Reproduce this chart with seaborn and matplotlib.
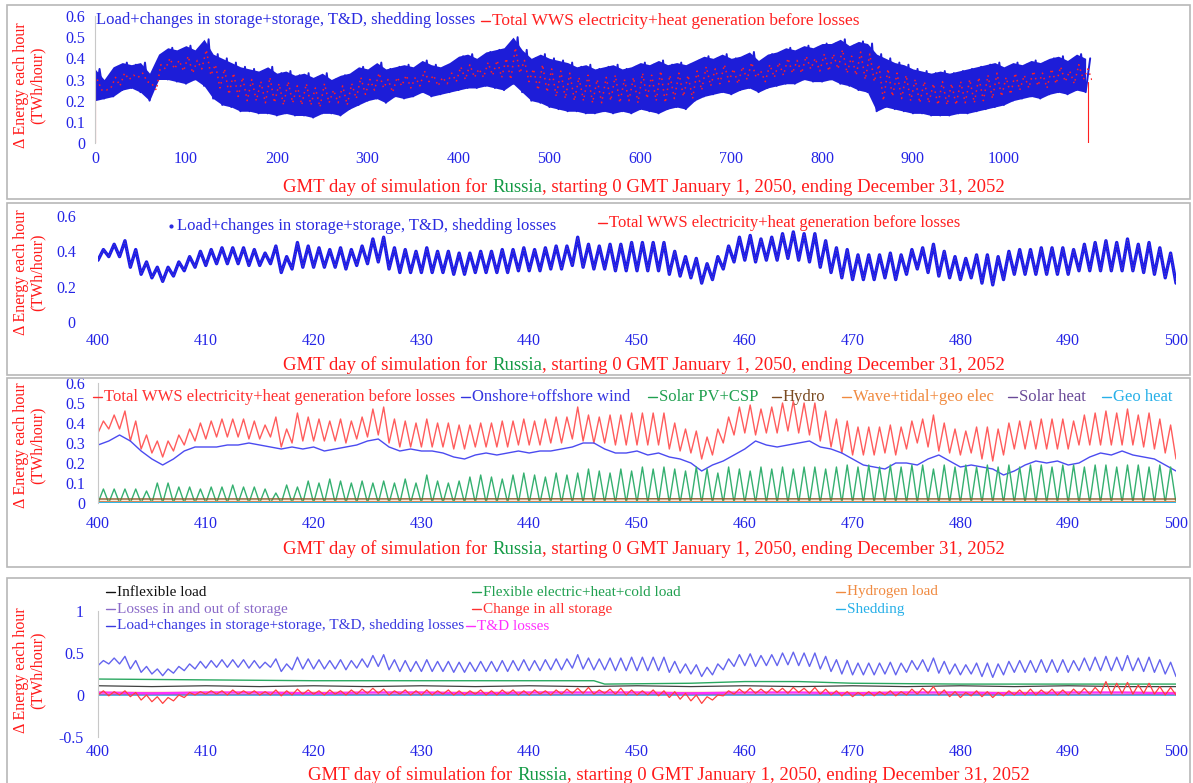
import numpy as np
import pandas as pd
import matplotlib
matplotlib.use("Agg")
import matplotlib.pyplot as plt
import seaborn as sns
from matplotlib.lines import Line2D
from matplotlib.patches import Rectangle

sns.set_theme(style="white")
plt.rcParams["font.family"] = ["Liberation Serif", "DejaVu Serif"]

# ---------------- data ----------------
# Panel 1: envelope of hourly series, sampled every 10 days (days 0..1090)
p1_days = list(range(0, 1100, 10))
p1_upper = [0.35, 0.30, 0.36, 0.38, 0.37, 0.38, 0.33, 0.42, 0.45, 0.44,
            0.46, 0.44, 0.49, 0.42, 0.40, 0.38, 0.36, 0.35, 0.34, 0.36,
            0.33, 0.34, 0.32, 0.33, 0.31, 0.33, 0.30, 0.32, 0.33, 0.36,
            0.35, 0.38, 0.35, 0.36, 0.37, 0.36, 0.39, 0.37, 0.36, 0.38,
            0.41, 0.42, 0.40, 0.43, 0.44, 0.45, 0.50, 0.44, 0.40, 0.42,
            0.40, 0.39, 0.38, 0.36, 0.37, 0.35, 0.36, 0.37, 0.35, 0.36,
            0.38, 0.37, 0.39, 0.37, 0.38, 0.37, 0.39, 0.41, 0.40, 0.42,
            0.40, 0.41, 0.43, 0.39, 0.42, 0.43, 0.45, 0.44, 0.46, 0.45,
            0.47, 0.47, 0.49, 0.46, 0.48, 0.47, 0.42, 0.40, 0.38, 0.37,
            0.35, 0.34, 0.33, 0.34, 0.33, 0.34, 0.35, 0.36, 0.37, 0.38,
            0.36, 0.38, 0.37, 0.39, 0.38, 0.40, 0.41, 0.39, 0.42, 0.40]
p1_lower = [0.20, 0.21, 0.22, 0.25, 0.26, 0.24, 0.20, 0.30, 0.30, 0.29,
            0.28, 0.30, 0.27, 0.21, 0.18, 0.17, 0.15, 0.15, 0.14, 0.14,
            0.13, 0.14, 0.13, 0.13, 0.12, 0.14, 0.14, 0.13, 0.16, 0.18,
            0.20, 0.21, 0.19, 0.22, 0.21, 0.22, 0.24, 0.22, 0.23, 0.24,
            0.25, 0.26, 0.26, 0.27, 0.26, 0.25, 0.28, 0.24, 0.20, 0.19,
            0.17, 0.16, 0.15, 0.15, 0.14, 0.14, 0.15, 0.14, 0.15, 0.14,
            0.16, 0.15, 0.14, 0.16, 0.17, 0.16, 0.20, 0.22, 0.23, 0.24,
            0.23, 0.25, 0.26, 0.24, 0.26, 0.27, 0.28, 0.28, 0.30, 0.29,
            0.29, 0.30, 0.28, 0.27, 0.25, 0.24, 0.15, 0.17, 0.16, 0.15,
            0.14, 0.14, 0.13, 0.13, 0.13, 0.14, 0.14, 0.15, 0.16, 0.17,
            0.18, 0.20, 0.21, 0.22, 0.21, 0.23, 0.24, 0.23, 0.25, 0.24]

# Panels 2-4: days 400..500, daily peaks and troughs of load / generation
days = list(range(400, 500))
load_peak = [0.41, 0.44, 0.46, 0.41, 0.34, 0.31, 0.31, 0.34, 0.37, 0.40,
             0.41, 0.42, 0.42, 0.42, 0.41, 0.39, 0.43, 0.37, 0.45, 0.43,
             0.42, 0.41, 0.42, 0.41, 0.43, 0.47, 0.48, 0.42, 0.41, 0.40,
             0.42, 0.40, 0.40, 0.39, 0.39, 0.40, 0.40, 0.41, 0.41, 0.42,
             0.41, 0.42, 0.43, 0.43, 0.48, 0.44, 0.43, 0.44, 0.44, 0.45,
             0.45, 0.45, 0.45, 0.40, 0.37, 0.36, 0.33, 0.37, 0.43, 0.48,
             0.49, 0.47, 0.48, 0.50, 0.51, 0.50, 0.50, 0.46, 0.42, 0.41,
             0.38, 0.38, 0.38, 0.39, 0.38, 0.41, 0.42, 0.44, 0.40, 0.37,
             0.36, 0.38, 0.38, 0.37, 0.40, 0.41, 0.41, 0.42, 0.42, 0.42,
             0.41, 0.44, 0.45, 0.46, 0.45, 0.47, 0.44, 0.45, 0.42, 0.39]
load_trough = [0.35, 0.37, 0.37, 0.31, 0.27, 0.25, 0.23, 0.26, 0.29, 0.31,
               0.32, 0.33, 0.33, 0.33, 0.32, 0.32, 0.33, 0.28, 0.30, 0.31,
               0.31, 0.31, 0.31, 0.30, 0.32, 0.33, 0.34, 0.30, 0.28, 0.28,
               0.28, 0.28, 0.28, 0.27, 0.27, 0.28, 0.28, 0.28, 0.28, 0.29,
               0.29, 0.29, 0.30, 0.30, 0.32, 0.31, 0.30, 0.30, 0.29, 0.29,
               0.29, 0.29, 0.29, 0.27, 0.26, 0.25, 0.22, 0.24, 0.30, 0.34,
               0.35, 0.34, 0.35, 0.35, 0.36, 0.35, 0.34, 0.31, 0.28, 0.25,
               0.24, 0.24, 0.24, 0.25, 0.24, 0.27, 0.30, 0.28, 0.26, 0.25,
               0.24, 0.25, 0.22, 0.21, 0.24, 0.27, 0.27, 0.27, 0.27, 0.27,
               0.27, 0.29, 0.29, 0.29, 0.29, 0.29, 0.29, 0.28, 0.27, 0.25,
               0.22]

wind_days = list(range(400, 501))
wind = [0.29, 0.31, 0.34, 0.31, 0.26, 0.22, 0.19, 0.22, 0.26, 0.28,
        0.28, 0.28, 0.29, 0.29, 0.30, 0.29, 0.28, 0.27, 0.28, 0.27,
        0.28, 0.26, 0.27, 0.28, 0.29, 0.31, 0.32, 0.28, 0.26, 0.27,
        0.26, 0.26, 0.25, 0.23, 0.22, 0.24, 0.25, 0.24, 0.25, 0.26,
        0.25, 0.26, 0.26, 0.27, 0.28, 0.30, 0.30, 0.27, 0.25, 0.25,
        0.26, 0.24, 0.25, 0.23, 0.22, 0.20, 0.16, 0.19, 0.21, 0.24,
        0.27, 0.31, 0.29, 0.28, 0.29, 0.30, 0.31, 0.28, 0.27, 0.25,
        0.22, 0.19, 0.18, 0.17, 0.20, 0.20, 0.19, 0.22, 0.24, 0.21,
        0.18, 0.19, 0.18, 0.17, 0.14, 0.16, 0.19, 0.21, 0.20, 0.21,
        0.19, 0.20, 0.23, 0.25, 0.24, 0.26, 0.24, 0.23, 0.22, 0.19,
        0.16]

solar_peak = [0.07, 0.07, 0.07, 0.07, 0.06, 0.10, 0.10, 0.08, 0.08, 0.07,
              0.08, 0.08, 0.09, 0.08, 0.08, 0.07, 0.05, 0.09, 0.08, 0.11,
              0.10, 0.12, 0.11, 0.10, 0.11, 0.10, 0.11, 0.10, 0.12, 0.10,
              0.14, 0.11, 0.10, 0.11, 0.13, 0.14, 0.13, 0.12, 0.14, 0.15,
              0.14, 0.13, 0.15, 0.14, 0.15, 0.17, 0.16, 0.15, 0.17, 0.16,
              0.18, 0.17, 0.18, 0.17, 0.16, 0.18, 0.17, 0.15, 0.18, 0.17,
              0.16, 0.18, 0.17, 0.18, 0.17, 0.18, 0.18, 0.17, 0.18, 0.19,
              0.18, 0.19, 0.18, 0.19, 0.18, 0.19, 0.19, 0.17, 0.19, 0.18,
              0.19, 0.18, 0.19, 0.18, 0.19, 0.18, 0.19, 0.19, 0.18, 0.19,
              0.19, 0.18, 0.19, 0.19, 0.18, 0.19, 0.19, 0.18, 0.19, 0.18]
solar_night = [0.0] * 101

flat_days = [400, 450, 500]
hydro = [0.020, 0.021, 0.020]
wave_tidal_geo = [0.012, 0.012, 0.012]
solar_heat = [0.004, 0.004, 0.004]
geo_heat = [0.001, 0.001, 0.001]

flex_days = [400, 410, 420, 430, 440, 446, 447, 455, 460, 465, 470, 480, 490, 500]
flexible = [0.19, 0.18, 0.17, 0.17, 0.17, 0.17, 0.13, 0.14, 0.16, 0.16, 0.14, 0.13, 0.13, 0.13]
five_days = list(range(400, 505, 5))
inflexible = [0.11, 0.10, 0.11, 0.10, 0.11, 0.10, 0.11, 0.10, 0.11, 0.10, 0.11,
              0.10, 0.11, 0.10, 0.11, 0.10, 0.11, 0.10, 0.11, 0.10, 0.10]
td_losses = [0.03, 0.02, 0.03, 0.03, 0.02, 0.03, 0.03, 0.02, 0.03, 0.03, 0.03,
             0.02, 0.03, 0.03, 0.02, 0.03, 0.03, 0.02, 0.03, 0.03, 0.02]
hydrogen = [0.03, 0.03, 0.03]
storage_losses = [0.01, 0.01, 0.01]
shedding = [0.0, 0.0, 0.0]

store_peak = [0.05, 0.04, 0.05, 0.03, 0.00, -0.02, -0.03, 0.00, 0.03, 0.04,
              0.05, 0.05, 0.06, 0.05, 0.05, 0.04, 0.06, 0.05, 0.07, 0.06,
              0.05, 0.06, 0.05, 0.06, 0.07, 0.08, 0.07, 0.05, 0.06, 0.05,
              0.06, 0.05, 0.06, 0.05, 0.05, 0.06, 0.05, 0.06, 0.06, 0.05,
              0.06, 0.05, 0.06, 0.07, 0.08, 0.09, 0.06, 0.07, 0.08, 0.06,
              0.05, 0.06, 0.05, 0.04, 0.02, 0.00, -0.02, 0.00, 0.05, 0.07,
              0.08, 0.07, 0.08, 0.08, 0.09, 0.08, 0.09, 0.07, 0.05, 0.04,
              0.03, 0.04, 0.04, 0.05, 0.04, 0.07, 0.08, 0.10, 0.06, 0.04,
              0.03, 0.05, 0.04, 0.03, 0.05, 0.06, 0.07, 0.06, 0.07, 0.06,
              0.07, 0.08, 0.09, 0.16, 0.14, 0.15, 0.12, 0.14, 0.10, 0.09]
store_trough = [0.00, -0.01, 0.00, -0.02, -0.06, -0.08, -0.10, -0.07, -0.03, 0.00,
                0.01, 0.01, 0.00, 0.01, 0.01, 0.00, 0.00, -0.01, 0.00, 0.01,
                0.01, 0.00, 0.01, 0.00, 0.01, 0.02, 0.02, 0.00, 0.01, 0.00,
                0.00, 0.00, 0.01, 0.00, 0.00, 0.01, 0.00, 0.00, 0.01, 0.00,
                0.00, 0.01, 0.00, 0.01, 0.02, 0.02, 0.01, 0.02, 0.01, 0.00,
                0.00, 0.00, -0.01, -0.03, -0.05, -0.07, -0.10, -0.06, -0.01, 0.01,
                0.02, 0.02, 0.02, 0.03, 0.02, 0.03, 0.02, 0.01, 0.00, -0.01,
                -0.02, -0.01, -0.01, 0.00, -0.01, 0.00, 0.01, 0.02, 0.00, -0.02,
                -0.03, -0.01, -0.02, -0.03, -0.01, 0.00, 0.00, 0.00, 0.01, 0.00,
                0.00, 0.01, 0.01, 0.02, 0.01, 0.02, 0.01, 0.02, 0.01, 0.00,
                0.00]

p1_xticks = list(range(0, 1100, 100))
p1_yticks = [0, 0.1, 0.2, 0.3, 0.4, 0.5, 0.6]
p1_ylabels = ["0", "0.1", "0.2", "0.3", "0.4", "0.5", "0.6"]
p2_yticks = [0, 0.2, 0.4, 0.6]
p2_ylabels = ["0", "0.2", "0.4", "0.6"]
p4_yticks = [-0.5, 0, 0.5, 1]
p4_ylabels = ["-0.5", "0", "0.5", "1"]
zoom_xticks = list(range(400, 510, 10))

# ---------------- helpers ----------------
W, H = 1193, 783
fig = plt.figure(figsize=(W / 100, H / 100), dpi=100)
fig.patch.set_facecolor("white")

RED = "#ff1a1a"
GREEN = "#139a45"
TICKBLUE = "#2424e6"


def ax_at(l, t, r, b):
    return fig.add_axes([l / W, 1 - b / H, (r - l) / W, (b - t) / H])


def zig(xd, lows, highs):
    xs, ys = [], []
    for i, d in enumerate(xd):
        xs += [d, d + 0.5]
        ys += [lows[i], highs[i]]
    if len(lows) > len(highs):
        xs.append(xd[-1] + 1)
        ys.append(lows[-1])
    return pd.DataFrame({"x": xs, "y": ys})


def line(ax, x, y, color, lw=1.0, **kw):
    sns.lineplot(x=list(x), y=list(y), ax=ax, color=color, linewidth=lw,
                 estimator=None, sort=False, legend=False, **kw)


def style_axes(ax, xticks, yticks, ylabels, xpad, ypad, spine=True, fs=11.5):
    ax.set_facecolor("none")
    for s in ax.spines.values():
        s.set_visible(False)
    if spine:
        ax.spines["left"].set_visible(True)
        ax.spines["left"].set_color("#c8c8c8")
        ax.spines["left"].set_linewidth(0.8)
    ax.set_xticks(xticks)
    ax.set_xticklabels([str(v) for v in xticks])
    ax.set_yticks(yticks)
    ax.set_yticklabels(ylabels)
    ax.tick_params(axis="x", length=0, pad=xpad, labelsize=fs, labelcolor=TICKBLUE)
    ax.tick_params(axis="y", length=0, pad=ypad, labelsize=fs, labelcolor=TICKBLUE)
    ax.grid(False)
    ax.set_xlabel("")
    ax.set_ylabel("")


def ylab(cy):
    fig.text(29 / W, 1 - cy / H, "\u0394 Energy each hour\n(TWh/hour)", rotation=90,
             ha="center", va="center", multialignment="center", color=RED,
             fontsize=11.5, linespacing=1.05)


renderer = fig.canvas.get_renderer()


def measure(s, size):
    t = fig.text(0, 0, s, fontsize=size)
    w = t.get_window_extent(renderer).width
    t.remove()
    return w


def rich_label(cx, cy, size=13.5):
    parts = [("GMT day of simulation for", RED), ("Russia", GREEN),
             (", starting 0 GMT January 1, 2050, ending December 31, 2052", RED)]
    space = measure("a a", size) - measure("aa", size)
    gaps = [space, 0, 0]
    widths = [measure(p, size) for p, _ in parts]
    total = sum(widths) + sum(gaps[:-1])
    x = cx - total / 2
    base = cy + 0.3 * size * 100 / 72
    for (s, c), w, g in zip(parts, widths, gaps):
        fig.text(x / W, 1 - base / H, s, color=c, fontsize=size, ha="left", va="baseline")
        x += w + g


def leg(x, y, text, color, size=11.5, dash=True, dot=False):
    if dash:
        fig.add_artist(Line2D([x / W, (x + 9) / W], [1 - y / H, 1 - y / H],
                              color=color, lw=1.0))
    if dot:
        fig.add_artist(Line2D([(x + 5) / W], [1 - y / H], marker="o", ms=2,
                              color=color, lw=0))
    fig.text((x + 11) / W, 1 - y / H, text, color=color, fontsize=size,
             ha="left", va="center")


def frame(t, b):
    fig.add_artist(Rectangle((7 / W, 1 - b / H), (1190 - 7) / W, (b - t) / H,
                             fill=False, edgecolor="#b8b8b8", lw=1.2,
                             transform=fig.transFigure))


# ---------------- panel 1 ----------------
ax1 = ax_at(95, 16, 1092, 143)
ax1.fill_between(p1_days, p1_lower, p1_upper, color="#1d1dd8", lw=0)
z1x, z1y = [], []
for i, d in enumerate(p1_days):
    z1x += [d, d + 5]
    z1y += [p1_lower[i], p1_upper[i]]
line(ax1, z1x, z1y, "#1d1dd8", lw=1.4)
r1x, r1y = [], []
for i, d in enumerate(p1_days):
    r1x += [d + 2.5, d + 7.5]
    r1y += [p1_upper[i] - 0.05, p1_lower[i] + 0.05]
line(ax1, r1x, r1y, "#ff2020", lw=1.1, linestyle=(0, (1, 2.5)))
# generation starts and ends at zero (thin red verticals at the ends)
line(ax1, [0, 0], [0.0, p1_upper[0] - 0.05], "#ff2020", lw=0.8)
line(ax1, [1093, 1093], [0.0, p1_lower[-1] + 0.05], "#ff2020", lw=0.8)
ax1.set_xlim(0, 1097)
ax1.set_ylim(0, 0.6)
style_axes(ax1, p1_xticks, p1_yticks, p1_ylabels, xpad=6, ypad=7)
ylab(85)
rich_label(644, 186)
leg(85, 20, "Load+changes in storage+storage, T&D, shedding losses", "#2a2ae0", size=12, dash=False)
leg(481, 21, "Total WWS electricity+heat generation before losses", "#ff2020", size=12.5)
frame(5, 199)

# ---------------- panel 2 ----------------
ax2 = ax_at(98, 216, 1176, 322)
z = zig(days, load_trough, load_peak)
line(ax2, z["x"], z["y"], "#1a1aea", lw=2.4)
line(ax2, z["x"], z["y"], "#f0a040", lw=0.4, alpha=0.5, linestyle=(0, (2, 3)))
ax2.set_xlim(400, 500)
ax2.set_ylim(0, 0.6)
style_axes(ax2, zoom_xticks, p2_yticks, p2_ylabels, xpad=8, ypad=16, spine=False)
ylab(272)
rich_label(644, 364)
leg(166, 226, "Load+changes in storage+storage, T&D, shedding losses", "#2a2ae0", size=12, dash=False, dot=True)
leg(598, 223, "Total WWS electricity+heat generation before losses", "#ff2020", size=12)
frame(203, 375)

# ---------------- panel 3 ----------------
ax3 = ax_at(98, 383, 1176, 503)
line(ax3, z["x"], z["y"], "#ff5c5c", lw=1.0)
line(ax3, wind_days, wind, "#4b4bf0", lw=1.0)
zs = zig(days, solar_night, solar_peak)
line(ax3, zs["x"], zs["y"], "#35b070", lw=1.0)
line(ax3, flat_days, hydro, "#8b5a2b", lw=1.0)
line(ax3, flat_days, wave_tidal_geo, "#f59040", lw=1.0)
line(ax3, flat_days, solar_heat, "#7a5aa8", lw=1.0)
line(ax3, flat_days, geo_heat, "#30b8e8", lw=1.5)
ax3.set_xlim(400, 500)
ax3.set_ylim(0, 0.6)
style_axes(ax3, zoom_xticks, p1_yticks, p1_ylabels, xpad=9, ypad=9)
ylab(445)
rich_label(644, 548)
leg(93, 397, "Total WWS electricity+heat generation before losses", "#ff3030", size=12)
leg(461, 397, "Onshore+offshore wind", "#3434e0", size=12)
leg(648, 397, "Solar PV+CSP", "#20a050", size=12)
leg(772, 397, "Hydro", "#7a4a20", size=12)
leg(842, 397, "Wave+tidal+geo elec", "#f08a40", size=12)
leg(1008, 397, "Solar heat", "#6a4a98", size=12)
leg(1102, 397, "Geo heat", "#28b0e8", size=12)
frame(378, 567)

# ---------------- panel 4 ----------------
ax4 = ax_at(98, 611, 1176, 737)
line(ax4, flat_days, shedding, "#30b8e8", lw=1.2)
line(ax4, flat_days, storage_losses, "#9070c0", lw=1.0)
line(ax4, flat_days, hydrogen, "#f59040", lw=1.0)
line(ax4, five_days, td_losses, "#ff30ff", lw=1.6)
line(ax4, five_days, inflexible, "#404040", lw=0.9)
line(ax4, flex_days, flexible, "#2aa860", lw=1.0)
zst = zig(days, store_trough, store_peak)
line(ax4, zst["x"], zst["y"], "#ff4040", lw=0.9)
line(ax4, z["x"], z["y"], "#6464ee", lw=1.0)
ax4.set_xlim(400, 500)
ax4.set_ylim(-0.5, 1.0)
style_axes(ax4, zoom_xticks, p4_yticks, p4_ylabels, xpad=5, ypad=10)
ylab(670)
rich_label(669, 774)
leg(106, 592, "Inflexible load", "#111111", size=11)
leg(472, 592, "Flexible electric+heat+cold load", "#20a050", size=11)
leg(836, 592, "Hydrogen load", "#f08a40", size=11)
leg(106, 609, "Losses in and out of storage", "#8a6ac8", size=11)
leg(472, 609, "Change in all storage", "#ff3030", size=11)
leg(836, 609, "Shedding", "#28b0e8", size=11)
leg(106, 626, "Load+changes in storage+storage, T&D, shedding losses", "#3a3ae0", size=11)
leg(466, 626, "T&D losses", "#ff30ff", size=11)
frame(578, 790)

fig.savefig("out.png", dpi=100, facecolor="white")
